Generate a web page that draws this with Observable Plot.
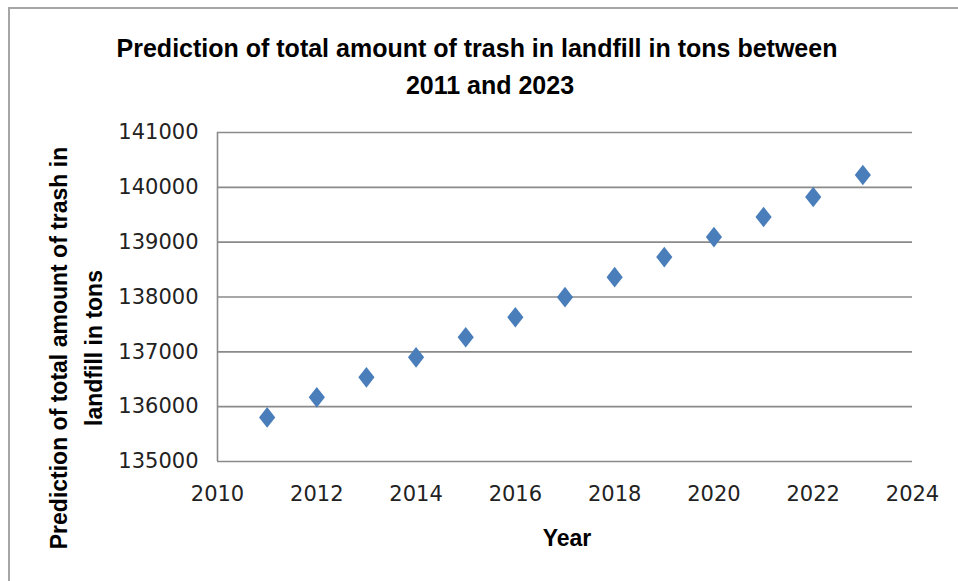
<!DOCTYPE html>
<html>
<head>
<meta charset="utf-8">
<script src="https://cdn.jsdelivr.net/npm/d3@7"></script>
<script src="https://cdn.jsdelivr.net/npm/@observablehq/plot@0.6"></script>
<style>
  html, body { margin: 0; padding: 0; background: #fff; }
  #wrap { position: relative; width: 958px; height: 581px; overflow: hidden; }
  #frame {
    position: absolute; left: 8px; top: 7px; width: 1000px; height: 700px;
    border-left: 2px solid #a6a6a6; border-top: 2px solid #a6a6a6;
  }
  #title {
    position: absolute; top: 30px; left: 0; width: 958px;
    font-family: "Liberation Sans Narrow", "Liberation Sans", sans-serif;
    font-weight: bold; font-size: 25px; line-height: 37px; color: #000;
    text-align: center;
  }
  #title .l1 { padding-right: 4px; }
  #title .l2 { padding-left: 22px; }
  #chart { position: absolute; left: 0; top: 110px; }
</style>
</head>
<body>
<div id="wrap">
  <div id="frame"></div>
  <div id="title">
    <div class="l1">Prediction of total amount of trash in landfill in tons between</div>
    <div class="l2">2011 and 2023</div>
  </div>
  <div id="chart"></div>
</div>
<script>
// Predicted landfill totals, one value per year
const years = [2011, 2012, 2013, 2014, 2015, 2016, 2017, 2018, 2019, 2020, 2021, 2022, 2023];
const tons = [135804, 136170, 136535, 136900, 137266, 137631, 137997, 138362, 138728, 139093, 139459, 139824, 140225];

// Axis ticks
const xTicks = [2010, 2012, 2014, 2016, 2018, 2020, 2022, 2024];
const yTicks = [135000, 136000, 137000, 138000, 139000, 140000, 141000];

// Axis titles
const xTitle = "Year";
const yTitleLines = ["Prediction of total amount of trash in", "landfill in tons"];

const data = years.map((year, i) => ({year, tons: tons[i]}));

// Diamond marker, a little taller than wide
const diamond = {
  draw(context, size) {
    const r = Math.sqrt(size / Math.PI);
    const hx = r * 0.9, hy = r * 1.15;
    context.moveTo(0, -hy);
    context.lineTo(hx, 0);
    context.lineTo(0, hy);
    context.lineTo(-hx, 0);
    context.closePath();
  }
};

const gridColor = "#8a8a8a";
const titleFont = "'Liberation Sans Narrow', 'Liberation Sans', sans-serif";
const tickFont = "'DejaVu Sans', sans-serif";

const chart = Plot.plot({
  width: 958,
  height: 471,
  marginLeft: 217,
  marginRight: 46,
  marginTop: 22,
  marginBottom: 120,
  style: {background: "transparent", overflow: "visible"},
  x: {domain: [2010, 2024]},
  y: {domain: [135000, 141000]},
  marks: [
    Plot.gridY(yTicks, {stroke: gridColor, strokeOpacity: 1, strokeWidth: 1.6}),
    Plot.ruleX([2010], {stroke: gridColor, strokeWidth: 1.6}),
    Plot.axisX(xTicks, {
      tickSize: 0, tickPadding: 25, tickFormat: d => String(d), label: null,
      fontSize: 21, fontFamily: tickFont, fill: "#222"
    }),
    Plot.axisY(yTicks, {
      tickSize: 0, tickPadding: 19, tickFormat: d => String(d), label: null,
      fontSize: 21, fontFamily: tickFont, fill: "#222"
    }),
    Plot.dot(data, {x: "year", y: "tons", symbol: diamond, r: 9, fill: "#4a7ebb", stroke: "none"}),
    Plot.text([yTitleLines[0]], {
      frameAnchor: "left", textAnchor: "middle", lineAnchor: "middle",
      rotate: -90, dx: -158, dy: 51,
      fontSize: 23, fontWeight: "bold", fontFamily: titleFont, fill: "#000"
    }),
    Plot.text([yTitleLines[1]], {
      frameAnchor: "left", textAnchor: "middle", lineAnchor: "middle",
      rotate: -90, dx: -123, dy: 51,
      fontSize: 23, fontWeight: "bold", fontFamily: titleFont, fill: "#000"
    }),
    Plot.text([xTitle], {
      frameAnchor: "bottom", textAnchor: "middle", lineAnchor: "middle",
      dx: 2, dy: 77,
      fontSize: 23, fontWeight: "bold", fontFamily: titleFont, fill: "#000"
    })
  ]
});

document.getElementById("chart").appendChild(chart);
</script>
</body>
</html>
